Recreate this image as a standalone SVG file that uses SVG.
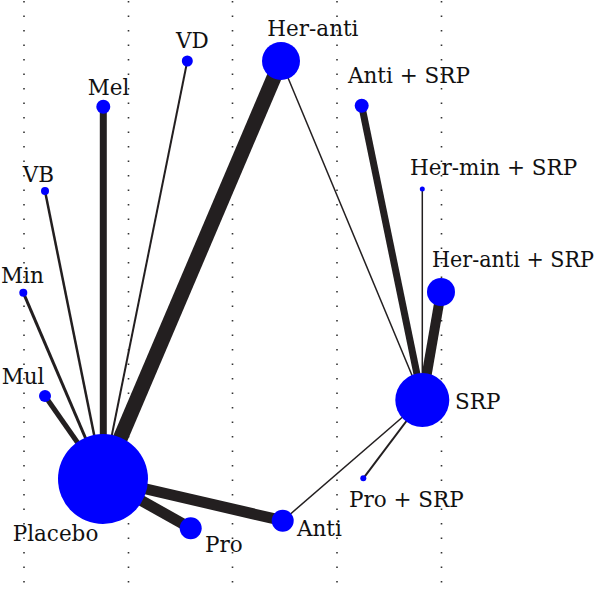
<svg xmlns="http://www.w3.org/2000/svg" width="600" height="595" viewBox="0 0 600 595">
<style>
.grid line{stroke:#333;stroke-width:1.6;stroke-dasharray:1.6 12.9}
.e{stroke:#231f20;stroke-linecap:butt;fill:none}
.n{fill:#0000ff}
text{font-family:"DejaVu Serif",serif;font-size:21.5px;fill:#111}
</style>
<rect width="600" height="595" fill="#fff"/>
<g class="grid">
<line x1="24" y1="1" x2="24" y2="595"/>
<line x1="128.5" y1="1" x2="128.5" y2="595"/>
<line x1="232.5" y1="1" x2="232.5" y2="595"/>
<line x1="337" y1="1" x2="337" y2="595"/>
<line x1="441.5" y1="1" x2="441.5" y2="595"/>
</g>
<g id="connectors">
<line class="e" x1="103" y1="479" x2="45" y2="396" stroke-width="5"/>
<line class="e" x1="103" y1="479" x2="23.3" y2="292.7" stroke-width="3"/>
<line class="e" x1="103" y1="479" x2="45" y2="191" stroke-width="2.5"/>
<line class="e" x1="103.3" y1="479" x2="103.3" y2="106.7" stroke-width="7"/>
<line class="e" x1="103" y1="479" x2="187.3" y2="61" stroke-width="2"/>
<line class="e" x1="103" y1="479" x2="281" y2="61" stroke-width="15"/>
<line class="e" x1="103" y1="479" x2="190.7" y2="528.3" stroke-width="11"/>
<line class="e" x1="103" y1="479" x2="282.7" y2="520.7" stroke-width="11"/>
<line class="e" x1="282.7" y1="520.7" x2="422.3" y2="400" stroke-width="1.5"/>
<line class="e" x1="281" y1="61" x2="422.3" y2="400" stroke-width="1.5"/>
<line class="e" x1="361.7" y1="105.7" x2="422.3" y2="400" stroke-width="7"/>
<line class="e" x1="422.3" y1="189" x2="422.3" y2="400" stroke-width="1.5"/>
<line class="e" x1="441" y1="292" x2="422.3" y2="400" stroke-width="10"/>
<line class="e" x1="363.3" y1="478.3" x2="422.3" y2="400" stroke-width="2"/>
</g>
<g id="Placebo"><circle class="n" cx="103" cy="479" r="45"/><text x="12.7" y="541">Placebo</text></g>
<g id="Pro"><circle class="n" cx="190.7" cy="528.3" r="11"/><text x="205" y="552.3">Pro</text></g>
<g id="Anti"><circle class="n" cx="282.7" cy="520.7" r="11"/><text x="297" y="535.7">Anti</text></g>
<g id="Mul"><circle class="n" cx="45" cy="396" r="6"/><text x="1.7" y="384">Mul</text></g>
<g id="Min"><circle class="n" cx="23.3" cy="292.7" r="4"/><text x="1" y="283.3">Min</text></g>
<g id="VB"><circle class="n" cx="45" cy="191" r="4"/><text x="22.7" y="181.7">VB</text></g>
<g id="Mel"><circle class="n" cx="103.3" cy="106.7" r="7"/><text x="87.7" y="95">Mel</text></g>
<g id="VD"><circle class="n" cx="187.3" cy="61" r="5.5"/><text x="176" y="48.3">VD</text></g>
<g id="Her-anti"><circle class="n" cx="281" cy="61" r="19"/><text x="267.3" y="36">Her-anti</text></g>
<g id="Anti-SRP"><circle class="n" cx="361.7" cy="105.7" r="7"/><text x="348" y="83.3">Anti + SRP</text></g>
<g id="Her-min-SRP"><circle class="n" cx="422.3" cy="189" r="2.5"/><text x="410" y="175">Her-min + SRP</text></g>
<g id="Her-anti-SRP"><circle class="n" cx="441" cy="292" r="14"/><text x="432" y="266.7" textLength="162" lengthAdjust="spacingAndGlyphs">Her-anti + SRP</text></g>
<g id="SRP"><circle class="n" cx="422.3" cy="400" r="27"/><text x="455" y="409">SRP</text></g>
<g id="Pro-SRP"><circle class="n" cx="363.3" cy="478.3" r="3"/><text x="349" y="506.7">Pro + SRP</text></g>
</svg>
